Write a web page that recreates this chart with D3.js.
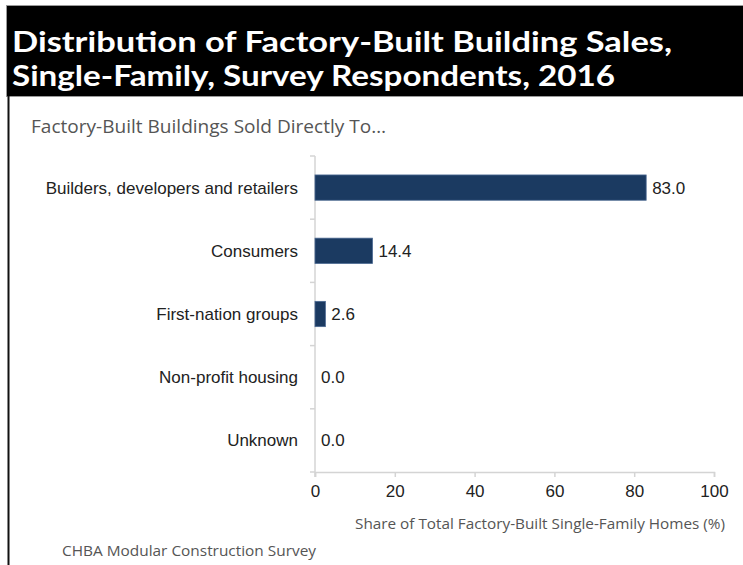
<!DOCTYPE html>
<html>
<head>
<meta charset="utf-8">
<script src="https://cdn.jsdelivr.net/npm/d3@7"></script>
<style>
  html, body { margin: 0; padding: 0; background: #fff; }
  svg { display: block; }
</style>
</head>
<body>
<svg id="chart" width="743" height="565"></svg>
<script>
const titleLines = ["Distribution of Factory-Built Building Sales,", "Single-Family, Survey Respondents, 2016"];
const subtitle = "Factory-Built Buildings Sold Directly To\u2026";
const categories = ["Builders, developers and retailers", "Consumers", "First-nation groups", "Non-profit housing", "Unknown"];
const values = [83.0, 14.4, 2.6, 0.0, 0.0];
const xTicks = [0, 20, 40, 60, 80, 100];
const xAxisTitle = "Share of Total Factory-Built Single-Family Homes (%)";
const source = "CHBA Modular Construction Survey";

const svg = d3.select("#chart");

// header
svg.append("rect").attr("x", 6.5).attr("y", 5.5).attr("width", 737).attr("height", 91)
  .attr("fill", "#000").attr("stroke", "#9a9a9a").attr("stroke-width", 1);
svg.append("line").attr("x1", 8.5).attr("x2", 8.5).attr("y1", 96).attr("y2", 565)
  .attr("stroke", "#111").attr("stroke-width", 2);

const titleFont = "Lato, 'Open Sans', sans-serif";
const bodyFont = "'Open Sans', 'Noto Sans', sans-serif";
svg.append("text").attr("x", 12).attr("y", 52).text(titleLines[0])
  .attr("fill", "#fff").attr("font-family", titleFont).attr("font-weight", 700)
  .attr("font-size", 29).attr("textLength", 660).attr("lengthAdjust", "spacingAndGlyphs");
svg.append("text").attr("x", 12).attr("y", 86).text(titleLines[1])
  .attr("fill", "#fff").attr("font-family", titleFont).attr("font-weight", 700)
  .attr("font-size", 29).attr("textLength", 603).attr("lengthAdjust", "spacingAndGlyphs");

svg.append("text").attr("x", 31).attr("y", 133).text(subtitle)
  .attr("fill", "#555").attr("font-family", bodyFont).attr("font-size", 18)
  .attr("textLength", 355).attr("lengthAdjust", "spacingAndGlyphs");

const x = d3.scaleLinear().domain([0, 100]).range([315, 714]);
const y = d3.scaleBand().domain(categories).range([156, 472]).paddingInner(0.6).paddingOuter(0.3);
const yb = d3.scaleBand().domain(categories).range([156, 472]);

const axisColor = "#d4d4d4";
const labelFont = "'Liberation Sans', Arial, sans-serif";

// y axis
const gy = svg.append("g").attr("transform", "translate(315,0)");
gy.append("line").attr("x1", 0).attr("x2", 0).attr("y1", 156).attr("y2", 477)
  .attr("stroke", axisColor).attr("stroke-width", 1.5);
const bounds = categories.map(c => yb(c)).concat([472]);
gy.selectAll("line.tk").data(bounds).join("line").attr("class", "tk")
  .attr("x1", -5).attr("x2", 0).attr("y1", d => d).attr("y2", d => d)
  .attr("stroke", axisColor).attr("stroke-width", 1.5);

// x axis
const gx = svg.append("g").attr("transform", "translate(0,472)")
  .call(d3.axisBottom(x).tickValues(xTicks).tickSize(5).tickPadding(8).tickFormat(d3.format("d")));
gx.select(".domain").attr("stroke", axisColor).attr("stroke-width", 1.5);
gx.selectAll(".tick line").attr("stroke", axisColor).attr("stroke-width", 1.5);
gx.selectAll(".tick text").attr("fill", "#222").attr("font-family", labelFont).attr("font-size", 17);

// category labels
svg.append("g").selectAll("text").data(categories).join("text")
  .attr("x", 298).attr("y", d => yb(d) + yb.bandwidth() / 2 + 6)
  .attr("text-anchor", "end").attr("fill", "#222")
  .attr("font-family", labelFont).attr("font-size", 17).text(d => d);

// bars
svg.append("g").selectAll("rect").data(values).join("rect")
  .attr("x", x(0)).attr("y", (d, i) => y(categories[i]))
  .attr("width", d => x(d) - x(0)).attr("height", y.bandwidth())
  .attr("fill", "#1b3a61").attr("stroke", "#4a6891").attr("stroke-width", d => d > 0 ? 0.8 : 0);

// value labels
svg.append("g").selectAll("text").data(values).join("text")
  .attr("x", d => x(d) + 6).attr("y", (d, i) => yb(categories[i]) + yb.bandwidth() / 2 + 6)
  .attr("fill", "#222").attr("font-family", labelFont).attr("font-size", 17)
  .text(d => d3.format(".1f")(d));

// axis title
svg.append("text").attr("x", 725).attr("y", 529).attr("text-anchor", "end").text(xAxisTitle)
  .attr("fill", "#555").attr("font-family", bodyFont).attr("font-size", 15)
  .attr("textLength", 370).attr("lengthAdjust", "spacingAndGlyphs");

// source
svg.append("text").attr("x", 62).attr("y", 556).text(source)
  .attr("fill", "#555").attr("font-family", bodyFont).attr("font-size", 15)
  .attr("textLength", 254).attr("lengthAdjust", "spacingAndGlyphs");
</script>
</body>
</html>
